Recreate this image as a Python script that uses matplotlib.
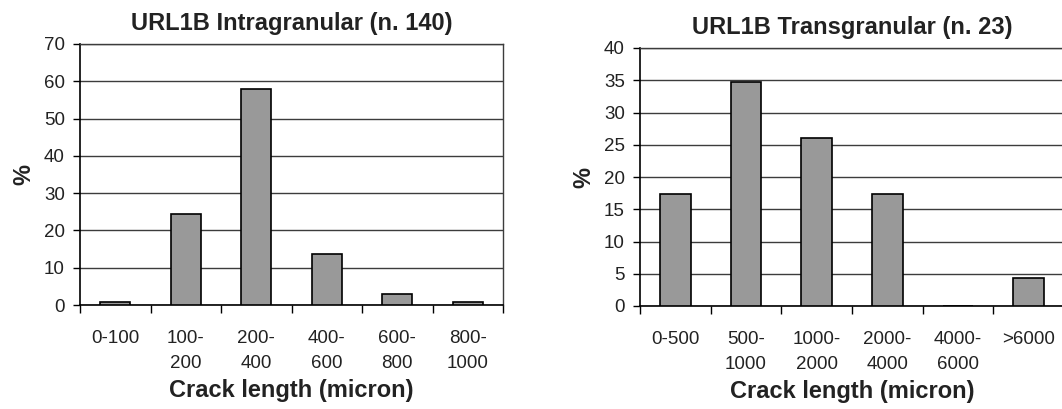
import numpy as np
import matplotlib.pyplot as plt

plt.rcParams['font.family'] = ['Liberation Sans', 'DejaVu Sans']

# intragranular cracks (n. 140)
intra_labels = ['0-100', '100-\n200', '200-\n400', '400-\n600', '600-\n800', '800-\n1000']
intra_pct = [0.7, 24.3, 57.9, 13.6, 2.9, 0.7]

# transgranular cracks (n. 23)
trans_labels = ['0-500', '500-\n1000', '1000-\n2000', '2000-\n4000', '4000-\n6000', '>6000']
trans_pct = [17.4, 34.8, 26.1, 17.4, 0.0, 4.3]

BAR_COLOR = '#999999'
GRID_COLOR = '#3c3c3c'
TEXT_COLOR = '#222222'


def draw_hist(ax, labels, values, title, ymax, ystep):
    n = len(values)
    x = np.arange(n) + 0.5
    ax.bar(x, values, width=0.43, color=BAR_COLOR, edgecolor='black',
           linewidth=1.2, zorder=3)
    ax.set_xlim(0, n)
    ax.set_ylim(0, ymax)
    ax.set_yticks(np.arange(0, ymax + 1, ystep))
    ax.yaxis.grid(True, color=GRID_COLOR, linewidth=1.0, zorder=0)
    ax.set_axisbelow(True)

    # boundary ticks (major) and centred labels (minor)
    ax.set_xticks(np.arange(n + 1))
    ax.set_xticklabels([])
    ax.set_xticks(x, minor=True)
    ax.set_xticklabels(labels, minor=True, fontsize=13.5, linespacing=1.6,
                       va='top', color=TEXT_COLOR)
    ax.tick_params(axis='x', which='major', length=6, width=1, direction='out')
    ax.tick_params(axis='x', which='minor', length=0, pad=18)
    ax.tick_params(axis='y', length=5, width=1, labelsize=13.5, pad=6,
                   labelcolor=TEXT_COLOR)

    ax.spines['top'].set_color(GRID_COLOR)
    ax.spines['right'].set_color(GRID_COLOR)
    ax.spines['top'].set_linewidth(1.0)
    ax.spines['right'].set_linewidth(1.0)
    ax.spines['left'].set_linewidth(1.2)
    ax.spines['bottom'].set_linewidth(1.2)

    ax.set_title(title, fontsize=17, fontweight='bold', pad=10,
                 color=TEXT_COLOR)
    ax.set_xlabel('Crack length (micron)', fontsize=17, fontweight='bold',
                  labelpad=5, color=TEXT_COLOR)
    ax.set_ylabel('%', fontsize=17, fontweight='bold', labelpad=6,
                  color=TEXT_COLOR)


fig = plt.figure(figsize=(10.62, 4.09), dpi=100)
ax1 = fig.add_axes([80 / 1062, 1 - 305 / 409, 423 / 1062, 261 / 409])
ax2 = fig.add_axes([640 / 1062, 1 - 306 / 409, 424 / 1062, 258 / 409])

draw_hist(ax1, intra_labels, intra_pct, 'URL1B Intragranular (n. 140)', 70, 10)
draw_hist(ax2, trans_labels, trans_pct, 'URL1B Transgranular (n. 23)', 40, 5)

fig.savefig('out.png', dpi=100)
